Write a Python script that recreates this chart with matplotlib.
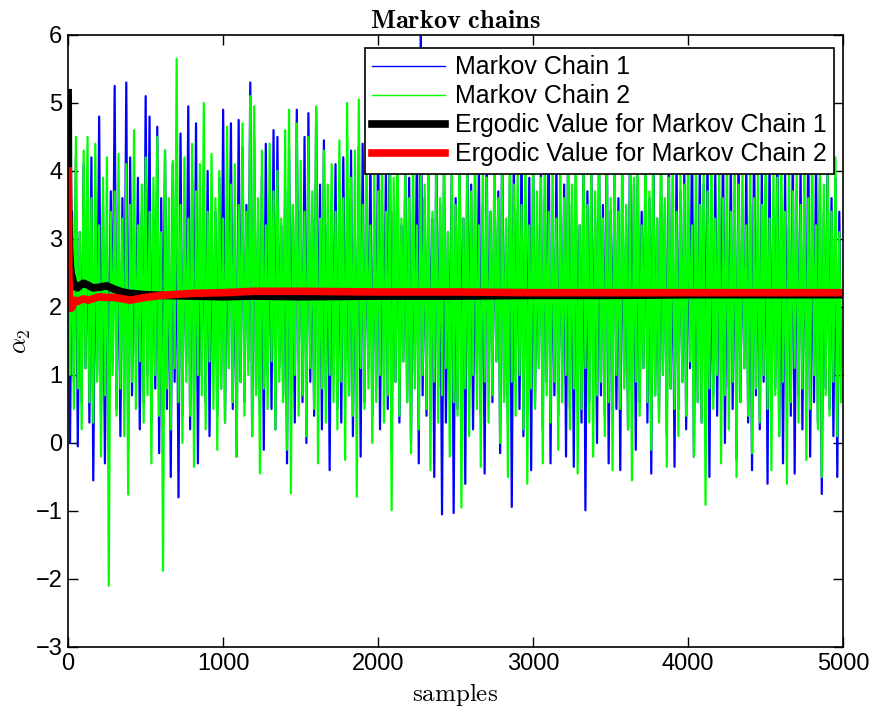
import numpy as np
import matplotlib
matplotlib.use("Agg")
from matplotlib import pyplot as plt

plt.rcParams['font.family'] = ['Liberation Sans', 'DejaVu Sans']
plt.rcParams['mathtext.fontset'] = 'cm'
plt.rcParams['path.simplify'] = False  # keep every zigzag of the traces

# peaks and troughs (one peak + one trough per 25 samples)
chain1_hi = [4.3, 3.4, 4.2, 3.1, 4.1, 3.6, 4.2, 3.2, 4.8, 3.5, 3.0, 3.7, 5.25, 3.3, 3.6, 5.3, 4.2, 3.1, 3.9, 3.4,
             5.1, 4.8, 3.3, 4.65, 3.6, 4.3, 3.2, 4.1, 3.5, 4.55, 3.4, 4.95, 3.9, 4.7, 3.3, 3.8, 4.0, 3.1, 3.4, 3.9,
             4.9, 3.6, 4.7, 3.2, 4.75, 4.35, 3.5, 5.3, 4.5, 3.3, 3.9, 4.4, 3.6, 4.6, 4.5, 3.2, 3.7, 4.35, 3.5, 4.9,
             3.4, 4.5, 4.85, 3.3, 4.9, 3.8, 4.45, 3.2, 3.6, 4.1, 3.5, 4.2, 3.4, 4.3, 3.0, 4.35, 4.4, 3.6, 4.3, 3.3,
             4.7, 3.5, 4.0, 4.95, 3.4, 4.5, 3.2, 4.1, 3.9, 3.4, 4.4, 6.3, 3.6, 4.0, 3.3, 4.6, 3.5, 4.2, 3.1, 4.0,
             3.6, 4.3, 3.3, 4.5, 3.8, 3.2, 4.1, 3.5, 4.4, 3.4, 4.0, 3.7, 4.6, 3.2, 3.9, 4.2, 3.4, 4.5, 3.6, 3.9,
             4.3, 3.2, 4.0, 3.6, 4.7, 3.4, 4.1, 3.3, 3.8, 4.4, 3.5, 4.0, 3.2, 4.6, 3.7, 4.1, 3.3, 4.3, 3.5, 4.8,
             3.4, 4.2, 3.6, 4.0, 3.2, 4.5, 3.8, 4.1, 3.4, 4.3, 3.6, 4.7, 3.3, 4.0, 3.5, 4.4, 3.2, 4.2, 3.7, 4.0,
             3.5, 4.6, 3.3, 4.1, 3.8, 4.3, 3.4, 4.0, 3.6, 4.5, 3.2, 4.2, 3.7, 4.4, 3.4, 4.1, 3.5, 4.6, 3.3, 4.0,
             3.8, 4.3, 3.4, 4.5, 3.6, 4.0, 3.2, 4.4, 3.7, 4.1, 3.5, 4.6, 3.3, 4.2, 3.9, 3.4, 4.3, 3.6, 3.9, 3.4]
chain1_lo = [0.0, 0.9, -0.05, 0.6, 1.1, 0.3, -0.55, 1.0, 0.4, -0.3, 0.8, 1.2, 0.5, 0.1, 0.9, -0.1, 0.7, 1.3, 0.2, 0.6,
             1.0, 0.3, 0.8, -0.15, 1.1, 0.5, -0.5, 0.9, -0.8, 0.4, 1.2, 0.2, 0.7, -0.3, 1.0, 0.6, 0.1, 1.3, 0.4, 0.8,
             0.3, 1.1, 0.5, -0.2, 0.9, 0.6, 1.2, 0.1, 0.8, 0.4, -0.1, 1.0, 0.5, 0.2, 1.1, 0.7, -0.3, 0.9, 0.3, 1.2,
             0.6, 0.0, 0.9, 0.4, 1.1, 0.2, 0.8, -0.4, 1.0, 0.5, 0.3, 1.2, 0.7, 0.1, 0.9, -0.2, 0.6, 1.1, 0.4, 0.8,
             0.2, 1.0, 0.5, -0.1, 0.9, 0.3, 1.2, 0.6, 0.0, 1.0, -0.3, 0.7, 0.4, 1.1, -0.5, 0.8, -1.05, 0.3, 0.9, -1.03,
             0.5, 1.1, -0.6, 0.8, 0.2, 1.0, 0.4, -0.45, 0.9, 0.6, 1.2, -0.15, 0.7, 0.3, -0.94, 1.0, 0.5, 0.1, 0.8, -0.4,
             0.6, 1.1, 0.2, 0.9, -0.3, 0.7, 0.4, 1.0, -0.2, 0.5, -0.35, 0.8, 0.3, -0.99, 0.6, 1.1, 0.0, 0.7, 0.4, -0.3,
             0.9, 0.5, -0.4, 1.0, 0.2, 0.8, -0.1, 0.6, 1.1, 0.3, -0.45, 0.7, 0.4, 1.0, 0.1, 0.8, -0.35, 0.5, 0.9, 0.2,
             1.1, -0.2, 0.6, 0.3, 0.9, -0.5, 0.7, 0.4, 1.0, 0.0, 0.8, 0.5, -0.25, 0.6, 1.1, 0.3, -0.4, 0.7, 0.2, 0.9,
             -0.6, 0.5, 0.8, 0.1, -0.3, 1.0, 0.4, -0.45, 0.7, 0.2, 0.9, -0.2, 0.6, 0.3, -0.75, 0.8, 0.5, 0.1, -0.5, 0.7]

chain2_hi = [3.9, 3.3, 4.5, 3.1, 4.3, 4.5, 3.6, 4.4, 3.2, 3.9, 4.2, 3.4, 3.7, 4.25, 3.3, 4.1, 3.5, 4.6, 3.2, 3.8,
             4.2, 3.4, 3.9, 4.5, 3.1, 4.3, 3.6, 4.15, 5.65, 3.5, 4.2, 3.3, 4.4, 3.7, 4.1, 5.0, 3.4, 4.25, 3.6, 4.0,
             3.3, 4.65, 3.8, 4.1, 3.5, 4.7, 3.4, 5.1, 4.95, 3.6, 4.3, 3.2, 4.4, 3.7, 4.0, 3.3, 4.6, 4.9, 3.5, 4.7,
             4.15, 3.4, 4.5, 3.7, 4.95, 3.3, 4.3, 3.8, 4.1, 3.4, 4.45, 3.6, 5.0, 3.9, 4.3, 5.05, 3.5, 4.4, 3.2, 4.0,
             3.7, 4.3, 3.4, 4.1, 3.9, 4.6, 3.3, 4.0, 3.6, 4.4, 3.2, 4.2, 3.8, 4.5, 3.4, 4.0, 3.6, 4.3, 3.1, 4.1,
             3.5, 4.4, 3.3, 4.0, 3.7, 4.6, 3.2, 4.2, 3.9, 3.4, 4.3, 3.6, 4.1, 3.3, 4.5, 3.8, 4.0, 3.5, 4.4, 3.2,
             4.2, 3.7, 3.9, 4.6, 3.4, 4.1, 3.3, 4.3, 3.6, 4.0, 3.8, 4.5, 3.2, 4.2, 3.5, 4.0, 3.7, 4.4, 3.3, 4.1,
             3.6, 4.3, 3.4, 4.7, 3.5, 4.0, 3.9, 4.2, 3.2, 4.4, 3.7, 4.1, 3.3, 4.5, 3.6, 3.9, 4.3, 3.4, 4.0, 3.8,
             4.6, 3.2, 4.2, 3.5, 4.1, 3.7, 4.4, 3.3, 4.0, 3.6, 4.3, 3.4, 4.5, 3.8, 4.1, 3.2, 4.2, 3.6, 4.0, 3.5,
             4.4, 3.3, 4.1, 3.9, 4.6, 3.4, 4.2, 3.7, 4.0, 3.5, 4.3, 3.6, 4.5, 3.2, 4.1, 3.8, 4.0, 3.4, 4.2, 3.1]
chain2_lo = [1.0, 0.5, 0.8, 0.2, 1.1, 0.6, 0.3, 0.9, -0.2, 0.7, -2.1, 1.0, 0.4, 0.8, 0.1, -0.76, 0.9, 0.5, 1.2, 0.3,
             0.7, -0.3, 1.0, 0.4, -1.88, 0.8, 0.2, 1.1, 0.6, 0.0, 0.9, 0.4, -0.35, 1.0, 0.7, 0.2, 1.2, 0.5, -0.1, 0.8,
             0.3, 1.1, 0.6, -0.2, 0.9, 0.4, 1.0, 0.1, 0.7, -0.45, 0.8, 0.5, 1.2, 0.2, 0.9, 0.6, -0.1, -0.74, 1.0, 0.4,
             0.7, 0.1, 1.1, 0.5, -0.3, 0.8, 0.3, 1.0, 0.6, 0.2, 0.9, -0.25, 0.7, 0.4, -0.79, 1.1, 0.5, 0.8, 0.0, 0.6,
             1.0, 0.3, 0.7, -0.99, 0.9, 0.4, 1.2, 0.6, -0.15, 0.8, 0.2, 1.0, 0.5, -0.4, 0.9, 0.3, 0.7, 1.1, -0.2, 0.6,
             0.4, -0.95, 0.8, 0.1, 1.0, 0.5, -0.35, 0.9, 0.3, 0.7, 1.2, 0.0, 0.6, -0.5, 0.9, 0.4, 1.0, 0.2, -0.6, 0.8,
             0.5, 1.1, -0.3, 0.7, 0.3, 0.9, -0.1, 0.6, 1.0, 0.2, 0.8, -0.45, 0.5, 1.1, 0.3, -0.2, 0.7, 0.9, 0.1, 0.6,
             -0.4, 1.0, 0.5, 0.8, 0.2, -0.55, 0.9, 0.4, 1.1, 0.6, -0.1, 0.7, 0.3, 1.0, -0.35, 0.8, 0.5, 0.1, 0.9, 0.4,
             1.2, -0.2, 0.6, 0.3, -0.91, 0.8, 0.5, 1.0, -0.3, 0.7, 0.2, 0.9, -0.5, 0.6, 1.1, 0.4, -0.15, 0.8, 0.3, 1.0,
             0.5, -0.4, 0.7, 0.1, 0.9, -0.6, 0.6, 1.1, 0.3, 0.8, -0.25, 0.5, 1.0, 0.2, -0.5, 0.7, 0.4, 0.9, 0.1, 0.6]

# running (ergodic) means
ergodic_samples = [1, 3, 6, 10, 15, 20, 30, 45, 60, 80, 100, 130, 160, 200, 250, 300, 350, 400, 500, 600,
                   800, 1000, 1200, 1500, 2000, 2500, 3000, 3500, 4000, 4500, 5000]
ergodic1 = [5.15, 3.9, 3.2, 2.8, 2.6, 2.5, 2.4, 2.3, 2.28, 2.32, 2.35, 2.32, 2.28, 2.29, 2.31, 2.26, 2.22, 2.2,
            2.18, 2.17, 2.16, 2.15, 2.16, 2.15, 2.16, 2.16, 2.17, 2.17, 2.18, 2.18, 2.18]
ergodic2 = [4.0, 3.0, 2.4, 2.1, 2.0, 1.98, 2.02, 2.1, 2.08, 2.1, 2.12, 2.1, 2.12, 2.15, 2.14, 2.14, 2.12, 2.1,
            2.14, 2.17, 2.2, 2.21, 2.23, 2.23, 2.22, 2.22, 2.21, 2.21, 2.21, 2.21, 2.21]

def trace(hi, lo):
    n = len(hi)
    x = np.empty(2 * n)
    y = np.empty(2 * n)
    x[0::2] = np.arange(n) * 25 + 1
    x[1::2] = np.arange(n) * 25 + 13
    y[0::2] = hi
    y[1::2] = lo
    return x, y

fig = plt.figure(figsize=(8.82, 7.13), dpi=100)
ax = fig.add_axes([0.0771, 0.0926, 0.8787, 0.8584])

x1, y1 = trace(chain1_hi, chain1_lo)
x2, y2 = trace(chain2_hi, chain2_lo)
ax.plot(x1, y1, color='#0000ff', lw=1.6, label='Markov Chain 1')
ax.plot(x2, y2, color='#00ff00', lw=1.6, label='Markov Chain 2')
ax.plot(ergodic_samples, ergodic1, color='black', lw=5.5, label='Ergodic Value for Markov Chain 1')
ax.plot(ergodic_samples, ergodic2, color='#ff0000', lw=5.5, label='Ergodic Value for Markov Chain 2')

ax.set_xlim(0, 5000)
ax.set_ylim(-3, 6)
ax.set_xticks(np.arange(0, 5001, 1000))
ax.set_yticks(np.arange(-3, 7, 1))
ax.tick_params(direction='in', length=7, width=1, labelsize=17, top=True, right=True, pad=4)
for s in ax.spines.values():
    s.set_linewidth(1.2)

ax.set_title(r'$\mathbf{Markov\ chains}$', fontsize=19, pad=5)
ax.set_xlabel(r'$\mathrm{samples}$', fontsize=18, labelpad=5)
ax.set_ylabel(r'$\alpha_2$', fontsize=18, labelpad=2)

leg = ax.legend(loc='upper right', bbox_to_anchor=(0.9884, 0.9788), borderaxespad=0,
                fontsize=18, fancybox=False, framealpha=1, edgecolor='black',
                handlelength=2.9, handletextpad=0.4, labelspacing=0.2, borderpad=0.3)
leg.get_frame().set_linewidth(1.2)
for h in leg.get_lines()[:2]:
    h.set_linewidth(1.0)

fig.savefig('out.png', dpi=100)
